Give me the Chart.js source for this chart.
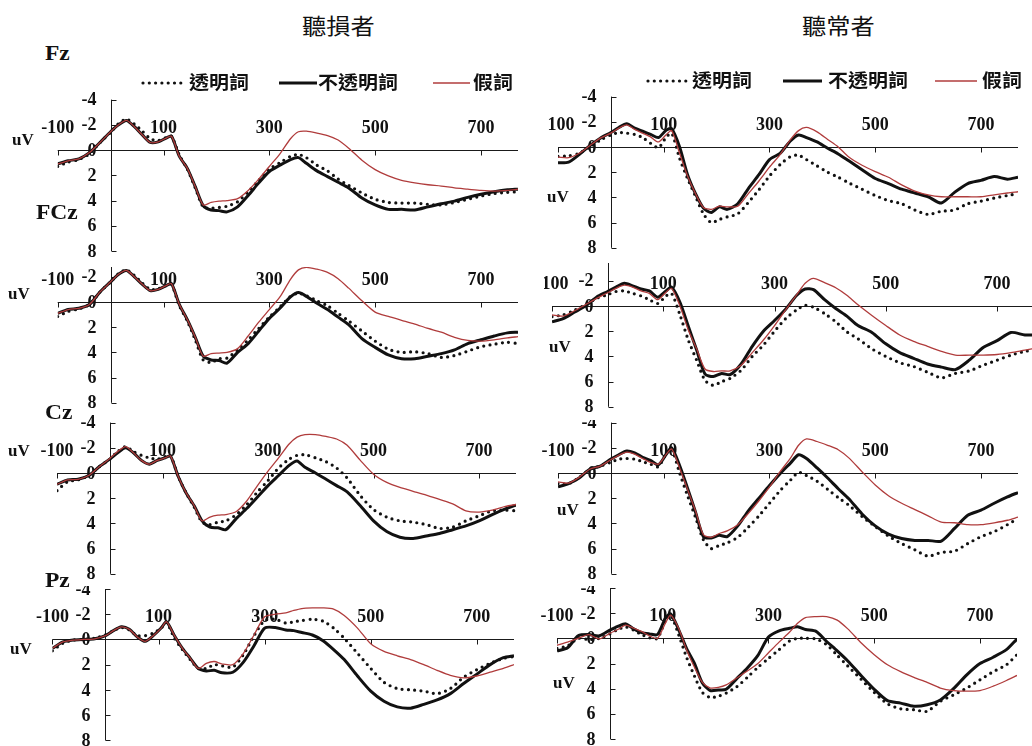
<!DOCTYPE html>
<html lang="zh-Hant">
<head>
<meta charset="utf-8">
<title>ERP waveforms</title>
<script src="https://cdn.jsdelivr.net/npm/chart.js@4.4.1/dist/chart.umd.min.js"></script>
<style>
  html, body { margin: 0; padding: 0; background: #fff; }
  body { position: relative; width: 1032px; height: 746px; overflow: hidden; }
  .pane { position: absolute; overflow: hidden; }
  .pane canvas { position: absolute; }
  .t { position: absolute; line-height: 1; white-space: nowrap; color: #111; transform-origin: 0 50%; }
  .serif { font-family: "Liberation Serif", "Times New Roman", serif; font-weight: bold; }
  .cjk { font-family: "Noto Sans CJK TC", "Noto Sans CJK SC", sans-serif; }
  svg { position: absolute; overflow: visible; }
</style>
</head>
<body>
<script>
// ---------------- data ----------------
const GROUPS = ['聽損者', '聽常者'];
const SITES = ['Fz', 'FCz', 'Cz', 'Pz'];
const SERIES = ['透明詞', '不透明詞', '假詞'];
const UNIT = 'uV';
const X_TICKS = [-100, 100, 300, 500, 700];
const Y_TICKS = [-4, -2, 0, 2, 4, 6, 8];
const X_MIN = -100, X_MAX = 770, Y_MIN = -4, Y_MAX = 8;

// sample times (ms)
const TIME_MS = [-100,-80,-60,-40,-20,0,15,30,45,60,75,90,105,115,130,145,160,175,190,205,220,240,260,280,300,320,340,355,370,390,410,430,450,475,500,525,550,575,600,625,650,675,700,725,750,770];

// 聽損者 (amplitudes in µV)
const LOSS_FZ_TRANSPARENT = [1.3,0.95,0.75,0.3,-0.6,-1.4,-2.1,-2.45,-2.05,-1.5,-0.9,-0.75,-1.0,-1.1,0.4,1.5,3.0,4.5,4.6,4.55,4.45,4.1,3.3,2.4,1.5,1.0,0.5,0.35,0.6,1.2,1.65,2.3,2.8,3.4,3.9,4.15,4.2,4.2,4.3,4.35,4.15,3.9,3.65,3.45,3.35,3.3];
const LOSS_FZ_OPAQUE      = [1.1,0.85,0.7,0.2,-0.6,-1.45,-2.0,-2.35,-1.85,-1.2,-0.6,-0.65,-0.95,-1.1,0.5,1.45,2.9,4.4,4.75,4.8,4.9,4.5,3.6,2.6,1.7,1.2,0.75,0.6,1.05,1.65,2.1,2.55,3.0,3.8,4.35,4.7,4.7,4.75,4.5,4.25,4.05,3.75,3.5,3.3,3.15,3.1];
const LOSS_FZ_PSEUDO      = [1.1,0.85,0.7,0.2,-0.6,-1.45,-2.0,-2.35,-1.85,-1.2,-0.6,-0.65,-0.95,-1.1,0.5,1.45,2.9,4.35,4.15,4.05,4.0,3.85,3.2,2.3,1.3,0.3,-0.9,-1.45,-1.5,-1.35,-1.15,-0.8,-0.15,0.8,1.55,2.05,2.4,2.6,2.75,2.85,3.0,3.1,3.2,3.25,3.2,3.1];

const LOSS_FCZ_TRANSPARENT = [1.15,0.75,0.55,0.2,-0.8,-1.6,-2.25,-2.55,-2.1,-1.5,-1.0,-1.05,-1.3,-1.4,0.3,1.5,3.0,4.6,4.8,4.5,4.45,3.8,3.0,2.1,1.2,0.4,-0.45,-0.7,-0.5,-0.1,0.3,0.9,1.5,2.3,3.1,3.75,4.0,3.95,4.1,4.4,4.25,3.9,3.55,3.35,3.2,3.3];
const LOSS_FCZ_OPAQUE      = [0.9,0.6,0.5,0.2,-0.8,-1.6,-2.2,-2.5,-2.0,-1.4,-0.9,-1.0,-1.3,-1.45,0.2,1.4,2.8,4.3,4.6,4.65,4.85,4.0,3.3,2.3,1.3,0.5,-0.4,-0.75,-0.45,0.1,0.6,1.2,1.8,2.9,3.6,4.2,4.5,4.5,4.3,4.1,3.8,3.3,3.0,2.7,2.45,2.4];
const LOSS_FCZ_PSEUDO      = [0.9,0.6,0.5,0.2,-0.8,-1.6,-2.2,-2.5,-2.0,-1.4,-0.9,-1.0,-1.3,-1.45,0.2,1.4,2.8,4.3,4.1,4.05,4.0,3.7,2.7,1.6,0.6,-0.4,-1.8,-2.55,-2.75,-2.6,-2.35,-1.85,-1.1,-0.1,0.8,1.15,1.45,1.75,2.1,2.4,2.8,3.05,3.1,3.0,2.85,2.75];

const LOSS_CZ_TRANSPARENT = [1.4,0.7,0.55,0.2,-0.5,-1.1,-1.7,-2.1,-1.7,-1.4,-1.2,-1.1,-1.3,-1.4,0.3,1.6,2.7,3.9,4.1,3.9,3.8,3.3,2.5,1.5,0.6,-0.4,-1.1,-1.4,-1.45,-1.2,-0.9,-0.4,0.4,1.8,2.9,3.5,3.8,3.9,4.1,4.4,4.3,3.8,3.4,3.0,2.95,3.0];
const LOSS_CZ_OPAQUE      = [0.9,0.55,0.5,0.2,-0.5,-1.1,-1.6,-2.0,-1.6,-1.0,-0.7,-1.0,-1.2,-1.35,0.3,1.6,2.6,3.8,4.3,4.35,4.5,3.6,2.8,1.9,1.0,0.2,-0.6,-0.95,-0.45,0.0,0.5,1.0,1.5,2.6,3.8,4.65,5.1,5.2,5.0,4.8,4.5,4.2,3.8,3.3,2.85,2.55];
const LOSS_CZ_PSEUDO      = [0.9,0.55,0.5,0.2,-0.5,-1.15,-1.7,-2.1,-1.6,-1.0,-0.7,-1.0,-1.2,-1.35,0.3,1.6,2.6,3.8,3.5,3.35,3.3,3.05,2.2,1.0,-0.15,-1.2,-2.3,-2.85,-3.05,-3.05,-2.9,-2.7,-2.2,-1.0,0.1,0.75,1.15,1.45,1.75,2.1,2.45,3.0,3.1,2.95,2.65,2.5];

const LOSS_PZ_TRANSPARENT = [0.9,0.3,0.05,0.0,-0.1,-0.35,-0.7,-0.95,-0.75,-0.3,-0.3,-0.5,-0.9,-1.35,-0.1,0.8,1.6,2.3,2.3,2.0,2.1,2.2,1.2,-0.3,-1.5,-1.6,-1.3,-1.4,-1.5,-1.6,-1.45,-0.9,-0.1,1.1,2.3,3.4,3.9,4.0,4.1,4.3,3.9,3.0,2.4,1.9,1.5,1.35];
const LOSS_PZ_OPAQUE      = [0.7,0.2,0.05,0.0,-0.05,-0.3,-0.7,-1.0,-0.8,-0.2,0.15,-0.3,-0.9,-1.4,-0.3,0.7,1.5,2.3,2.5,2.45,2.65,2.6,1.8,0.5,-0.9,-0.95,-0.75,-0.7,-0.55,-0.35,0.1,0.8,1.6,2.9,4.1,4.9,5.35,5.45,5.15,4.8,4.3,3.5,2.75,2.0,1.45,1.3];
const LOSS_PZ_PSEUDO      = [0.7,0.2,0.05,0.0,-0.05,-0.3,-0.7,-1.0,-0.8,-0.2,0.15,-0.3,-0.9,-1.4,-0.3,0.7,1.5,2.3,1.9,1.75,1.95,2.0,1.1,-0.35,-1.8,-2.0,-2.1,-2.3,-2.45,-2.5,-2.5,-2.4,-1.9,-0.9,0.35,0.95,1.3,1.6,2.0,2.45,2.85,3.05,2.9,2.6,2.3,2.0];

// 聽常者 (amplitudes in µV)
const NORM_FZ_TRANSPARENT = [0.75,0.7,0.5,0.0,-0.55,-0.95,-1.15,-1.1,-1.0,-0.75,-0.3,0.05,-0.8,-1.1,0.9,2.5,3.9,5.3,6.0,5.75,5.55,5.3,4.4,3.4,2.3,1.4,0.75,0.65,1.0,1.5,2.0,2.4,2.85,3.35,3.85,4.25,4.5,5.0,5.35,5.1,5.0,4.5,4.3,4.05,3.85,3.7];
const NORM_FZ_OPAQUE      = [1.25,1.2,0.6,-0.1,-0.7,-1.15,-1.55,-1.85,-1.5,-1.25,-1.0,-0.75,-1.35,-1.45,0.0,2.2,3.7,4.85,5.2,4.75,4.95,4.5,3.3,2.2,1.0,0.5,-0.5,-0.95,-0.75,-0.4,0.1,0.55,1.1,1.8,2.5,2.9,3.35,3.65,3.95,4.45,3.6,2.9,2.65,2.35,2.55,2.4];
const NORM_FZ_PSEUDO      = [0.8,0.85,0.5,-0.1,-0.7,-1.1,-1.5,-1.75,-1.4,-1.1,-0.8,-0.4,-1.0,-1.3,0.5,2.3,3.7,4.8,4.95,4.7,4.75,4.7,3.7,2.7,1.6,0.6,-0.6,-1.3,-1.55,-1.2,-0.6,0.0,0.8,1.45,1.95,2.4,3.0,3.5,3.8,3.95,3.95,3.95,3.95,3.8,3.65,3.55];

const NORM_FCZ_TRANSPARENT = [0.85,0.7,0.35,-0.1,-0.6,-0.9,-1.15,-1.2,-1.0,-0.8,-0.5,-0.2,-0.8,-1.0,0.7,2.7,4.3,5.9,6.3,6.0,5.75,5.1,4.0,3.1,2.0,1.0,0.3,-0.05,0.1,0.6,1.25,2.05,2.6,3.4,4.0,4.5,4.8,5.25,5.7,5.35,5.15,4.7,4.3,3.9,3.6,3.5];
const NORM_FCZ_OPAQUE      = [1.25,1.0,0.5,0.0,-0.7,-1.15,-1.5,-1.8,-1.6,-1.35,-1.2,-0.7,-1.2,-1.5,-0.3,1.6,3.5,5.4,5.6,5.35,5.45,4.6,3.2,2.0,1.15,0.25,-0.85,-1.35,-1.3,-0.5,0.2,0.8,1.55,2.1,3.0,3.7,4.15,4.6,4.85,5.05,4.3,3.3,2.75,2.1,2.3,2.3];
const NORM_FCZ_PSEUDO      = [0.7,0.8,0.4,-0.1,-0.6,-1.05,-1.4,-1.65,-1.5,-1.2,-1.0,-0.5,-1.1,-1.4,0.0,1.9,3.4,5.0,5.2,5.15,5.15,4.7,3.7,2.7,1.55,0.3,-0.9,-1.8,-2.2,-1.85,-1.45,-0.85,-0.1,0.75,1.55,2.3,2.8,3.2,3.6,3.9,3.9,3.9,3.85,3.7,3.5,3.35];

const NORM_CZ_TRANSPARENT = [0.85,0.85,0.35,-0.3,-0.55,-0.85,-1.1,-1.15,-1.1,-0.9,-0.7,-0.5,-1.6,-1.9,0.0,1.8,3.5,5.3,6.0,5.75,5.55,5.1,4.3,3.4,2.4,1.4,0.55,-0.05,0.2,0.65,1.3,1.95,2.55,3.45,4.25,5.0,5.6,6.1,6.6,6.3,6.2,5.6,5.05,4.65,4.1,3.6];
const NORM_CZ_OPAQUE      = [1.1,0.85,0.4,-0.3,-0.55,-1.1,-1.45,-1.75,-1.6,-1.25,-1.0,-0.65,-1.5,-2.0,-0.6,1.2,3.1,5.05,5.15,4.95,5.05,4.2,3.0,2.0,1.0,0.05,-0.8,-1.45,-1.15,-0.4,0.4,1.25,2.05,3.25,4.2,4.85,5.2,5.35,5.35,5.4,4.4,3.35,2.95,2.4,1.9,1.55];
const NORM_CZ_PSEUDO      = [0.7,0.8,0.35,-0.3,-0.55,-1.05,-1.4,-1.65,-1.5,-1.15,-0.85,-0.7,-1.5,-1.9,-0.4,1.3,3.0,4.9,5.1,4.8,4.6,4.1,3.2,2.2,1.1,-0.1,-1.2,-2.2,-2.7,-2.5,-2.2,-1.85,-1.2,-0.1,0.95,1.8,2.4,2.9,3.4,3.9,3.95,4.1,4.1,3.95,3.75,3.5];

const NORM_PZ_TRANSPARENT = [0.8,0.6,0.0,0.1,0.0,-0.35,-0.7,-0.9,-0.65,-0.3,-0.05,0.0,-1.4,-1.85,-0.3,1.5,3.0,4.3,4.7,4.6,4.35,3.85,3.1,2.3,1.6,0.9,0.2,0.0,0.0,0.05,0.5,1.35,2.2,3.25,4.3,5.2,5.6,5.67,5.8,5.0,4.5,3.95,3.3,2.65,2.1,1.3];
const NORM_PZ_OPAQUE      = [1.0,0.75,-0.2,-0.3,-0.2,-0.65,-0.95,-1.15,-0.75,-0.45,-0.35,-0.3,-1.6,-1.95,-0.7,0.8,2.0,3.55,4.15,4.1,4.05,3.2,2.35,1.35,-0.1,-0.6,-0.8,-0.92,-0.7,-0.55,0.25,1.0,1.8,2.95,4.05,4.95,5.15,5.4,5.28,4.9,4.0,2.9,2.0,1.5,0.9,0.05];
const NORM_PZ_PSEUDO      = [0.55,0.3,0.0,-0.3,0.05,-0.4,-0.7,-1.05,-0.8,-0.55,-0.2,0.0,-1.2,-1.85,-0.8,0.9,2.3,3.5,3.95,3.9,3.7,3.15,2.6,2.0,1.15,0.3,-0.5,-1.2,-1.65,-1.73,-1.73,-1.45,-0.75,0.35,1.3,2.1,2.65,3.1,3.5,3.95,4.15,4.2,4.15,3.8,3.35,2.95];

// ---------------- layout ----------------
// plot: pixel box of the value window [X_MIN..X_MAX] x [Y_MIN..Y_MAX]; view: visible (clipped) box
const PANELS = [
  { series: [LOSS_FZ_TRANSPARENT, LOSS_FZ_OPAQUE, LOSS_FZ_PSEUDO],   plot: [57.7, 99.6, 518, 251],    view: [28, 88, 526, 262] },
  { series: [LOSS_FCZ_TRANSPARENT, LOSS_FCZ_OPAQUE, LOSS_FCZ_PSEUDO], plot: [57.7, 251.6, 518, 402.8], view: [28, 267, 526, 412] },
  { series: [LOSS_CZ_TRANSPARENT, LOSS_CZ_OPAQUE, LOSS_CZ_PSEUDO],   plot: [57, 422.6, 516, 573.8],   view: [28, 412, 526, 584] },
  { series: [LOSS_PZ_TRANSPARENT, LOSS_PZ_OPAQUE, LOSS_PZ_PSEUDO],   plot: [52.4, 589, 514, 740.3],   view: [24, 586, 526, 746] },
  { series: [NORM_FZ_TRANSPARENT, NORM_FZ_OPAQUE, NORM_FZ_PSEUDO],   plot: [558, 96.6, 1018, 247.8],  view: [548, 86, 1032, 258] },
  { series: [NORM_FCZ_TRANSPARENT, NORM_FCZ_OPAQUE, NORM_FCZ_PSEUDO], plot: [552, 255.6, 1036, 406.8], view: [544, 263, 1032, 416] },
  { series: [NORM_CZ_TRANSPARENT, NORM_CZ_OPAQUE, NORM_CZ_PSEUDO],   plot: [558, 422.6, 1018, 573.8], view: [535, 420, 1032, 584] },
  { series: [NORM_PZ_TRANSPARENT, NORM_PZ_OPAQUE, NORM_PZ_PSEUDO],   plot: [557, 588, 1017, 739],     view: [535, 586, 1032, 746] }
];

const INK = '#111';
const RED = '#b03c3c';
const STYLES = [
  { borderColor: INK, borderWidth: 3.2, borderDash: [0, 6.3], borderCapStyle: 'round', order: 2 },
  { borderColor: INK, borderWidth: 3, order: 1 },
  { borderColor: RED, borderWidth: 1.3, order: 0 }
];

// zero-crossing axes with labels sitting above the time axis
const erpAxes = {
  id: 'erpAxes',
  beforeDatasetsDraw(chart) {
    const { ctx, scales: { x, y } } = chart;
    const px = v => x.getPixelForValue(v);
    const py = v => y.getPixelForValue(v);
    const crisp = v => Math.round(v) + 0.5;
    const x0 = crisp(px(0)), y0 = crisp(py(0));
    ctx.save();
    ctx.strokeStyle = '#1a1a1a';
    ctx.lineWidth = 1;
    ctx.beginPath();
    ctx.moveTo(px(X_MIN), y0); ctx.lineTo(px(X_MAX), y0);
    X_TICKS.forEach(t => { const xx = crisp(px(t)); ctx.moveTo(xx, y0); ctx.lineTo(xx, y0 + 5); });
    ctx.moveTo(x0, py(Y_MIN)); ctx.lineTo(x0, py(Y_MAX));
    Y_TICKS.forEach(v => { const yy = crisp(py(v)); ctx.moveTo(x0, yy); ctx.lineTo(x0 + 5, yy); });
    ctx.stroke();

    ctx.fillStyle = INK;
    ctx.font = 'bold 18px "Liberation Serif", serif';
    ctx.textBaseline = 'middle';
    ctx.textAlign = 'center';
    X_TICKS.forEach(t => ctx.fillText(String(t), px(t), y0 - 22));
    ctx.textAlign = 'right';
    Y_TICKS.forEach(v => ctx.fillText(String(v), x0 - 15, py(v) + 1));
    ctx.restore();
  }
};

function buildPanel(p) {
  const [vl, vt, vr, vb] = p.view;
  const [pl, pt, pr, pb] = p.plot;
  // canvas always holds the whole plot plus room for labels; the pane clips it
  const cl = Math.floor(pl - 42), ct = Math.floor(pt - 14);
  const cr = Math.ceil(pr + 10), cb = Math.ceil(pb + 14);
  const pane = document.createElement('div');
  pane.className = 'pane';
  pane.style.left = vl + 'px'; pane.style.top = vt + 'px';
  pane.style.width = (vr - vl) + 'px'; pane.style.height = (vb - vt) + 'px';
  const cv = document.createElement('canvas');
  const w = cr - cl, h = cb - ct;
  cv.width = w; cv.height = h;
  cv.style.left = (cl - vl) + 'px'; cv.style.top = (ct - vt) + 'px';
  cv.style.width = w + 'px'; cv.style.height = h + 'px';
  pane.appendChild(cv);
  document.body.appendChild(pane);
  new Chart(cv, {
    type: 'line',
    data: {
      datasets: p.series.map((vals, i) => Object.assign({
        label: SERIES[i],
        data: TIME_MS.map((t, k) => ({ x: t, y: vals[k] })),
        pointRadius: 0,
        tension: 0.25,
        fill: false
      }, STYLES[i]))
    },
    options: {
      responsive: false,
      animation: false,
      devicePixelRatio: 1,
      events: [],
      layout: { padding: { left: pl - cl, top: pt - ct, right: cr - pr, bottom: cb - pb } },
      plugins: { legend: { display: false }, tooltip: { enabled: false } },
      scales: {
        x: { type: 'linear', min: X_MIN, max: X_MAX, display: false },
        y: { type: 'linear', min: Y_MIN, max: Y_MAX, reverse: true, display: false }
      }
    },
    plugins: [erpAxes]
  });
}

function addText(str, cls, left, top, size, sx, weight) {
  const d = document.createElement('div');
  d.className = 't ' + cls;
  d.textContent = str;
  d.style.left = left + 'px';
  d.style.top = top + 'px';
  d.style.fontSize = size + 'px';
  if (weight) d.style.fontWeight = weight;
  if (sx && sx !== 1) d.style.transform = 'scaleX(' + sx + ')';
  document.body.appendChild(d);
}

function addSample(i, x1, x2, yc) {
  const s = STYLES[i];
  const ns = 'http://www.w3.org/2000/svg';
  const svg = document.createElementNS(ns, 'svg');
  svg.setAttribute('width', x2 - x1 + 6);
  svg.setAttribute('height', 8);
  svg.style.left = (x1 - 3) + 'px';
  svg.style.top = (yc - 4) + 'px';
  const ln = document.createElementNS(ns, 'line');
  ln.setAttribute('x1', 3); ln.setAttribute('x2', x2 - x1 + 3);
  ln.setAttribute('y1', 4); ln.setAttribute('y2', 4);
  ln.setAttribute('stroke', s.borderColor);
  ln.setAttribute('stroke-width', s.borderWidth);
  if (s.borderDash) { ln.setAttribute('stroke-dasharray', s.borderDash.join(' ')); ln.setAttribute('stroke-linecap', 'round'); }
  svg.appendChild(ln);
  document.body.appendChild(svg);
}

PANELS.forEach(buildPanel);

// group titles
addText(GROUPS[0], 'cjk', 302, 12.8, 22, 1.1, 'normal');
addText(GROUPS[1], 'cjk', 802, 12.8, 22, 1.1, 'normal');

// legends (one per group)
const LEGENDS = [
  { y: 82, items: [[143, 185, 189], [279, 317, 318], [433, 470, 473]] },
  { y: 80, items: [[648, 687, 692], [783, 822, 828], [935, 977, 982]] }
];
LEGENDS.forEach(lg => lg.items.forEach(([a, b, tx], i) => {
  addSample(i, a, b, lg.y + 1);
  addText(SERIES[i], 'cjk', tx, lg.y - 10.3, 18.5, 1.08, 'bold');
}));

// electrode names
const SITE_POS = [[45, 42.8], [36, 201.8], [45, 402.3], [45, 569.5]];
SITES.forEach((s, i) => addText(s, 'serif', SITE_POS[i][0], SITE_POS[i][1], 21, 1.12));

// unit labels
const UNIT_POS = [[23, 140], [19, 294], [19, 451], [21, 649], [558, 197], [560, 347], [568, 510], [564, 683]];
UNIT_POS.forEach(([cx, cy]) => addText(UNIT, 'serif', cx - 11, cy - 9, 17, 1));
</script>
</body>
</html>
